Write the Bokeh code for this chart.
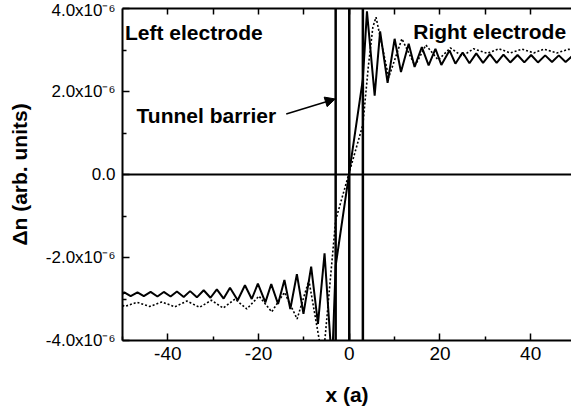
from bokeh.plotting import figure
from bokeh.models import (Range1d, LinearAxis, FixedTicker, Span, Label,
                          Arrow, NormalHead)
from bokeh.embed import file_html
from bokeh.resources import INLINE

# Charge-density change along the junction, in units of 1e-6 (arb. units)
# Solid curve: turning points read along x (lattice units a)
x_solid = [-50.0, -49.6, -48.2, -46.7, -45.3, -43.8, -42.3, -40.9, -39.4, -38.0,
           -36.5, -35.1, -33.6, -32.1, -30.6, -29.2, -27.7, -26.3, -24.6, -23.0,
           -21.5, -20.15, -18.5, -17.2, -15.7, -14.3, -13.0, -11.55, -10.1, -8.4,
           -6.9, -5.45, -3.8, -3.0, 3.0, 3.9, 5.6, 6.8, 8.45, 10.0,
           11.4, 13.1, 14.4, 16.0, 17.5, 19.0, 20.3, 22.1, 23.4, 25.0,
           26.5, 28.0, 29.5, 31.0, 32.5, 34.0, 35.5, 37.1, 38.6, 40.1,
           41.6, 43.2, 44.7, 46.2, 47.7, 49.2]
dn_solid = [-2.88, -2.84, -2.93, -2.84, -2.93, -2.83, -2.94, -2.83, -2.94, -2.82,
            -2.95, -2.81, -2.96, -2.79, -2.97, -2.77, -2.99, -2.73, -3.03, -2.67,
            -3.00, -2.63, -3.08, -2.64, -3.12, -2.54, -3.24, -2.40, -3.36, -2.22,
            -3.60, -1.90, -4.60, -2.20, 2.30, 3.93, 1.90, 3.45, 2.21, 3.27,
            2.47, 3.15, 2.59, 3.07, 2.63, 3.03, 2.64, 2.99, 2.67, 2.94,
            2.68, 2.92, 2.69, 2.90, 2.69, 2.89, 2.70, 2.88, 2.70, 2.88,
            2.70, 2.87, 2.71, 2.87, 2.71, 2.86]

# Dotted curve
x_dot = [-50.0, -49.5, -46.8, -44.0, -41.3, -38.5, -35.8, -33.0, -30.4, -27.8,
         -25.2, -22.6, -19.9, -17.1, -14.3, -11.5, -8.9, -5.8, -3.0, 3.0,
         4.2, 5.2, 5.9, 8.7, 11.6, 14.5, 16.9, 19.6, 22.3, 24.9,
         27.4, 30.4, 33.0, 35.5, 38.1, 40.7, 42.9, 45.8, 48.4, 49.2]
dn_dot = [-3.15, -3.18, -3.08, -3.18, -3.07, -3.19, -3.05, -3.20, -3.03, -3.22,
          -3.00, -3.24, -2.93, -3.31, -2.84, -3.48, -2.55, -4.50, -1.10, 1.20,
          2.60, 3.55, 3.79, 2.34, 3.27, 2.62, 3.12, 2.76, 3.05, 2.85,
          3.03, 2.92, 3.03, 2.93, 3.02, 2.93, 3.02, 2.93, 3.02, 3.00]

# Barrier edges and centre
barrier_x = [-3.0, 0.0, 3.0]

x_ticks = [-40, -20, 0, 20, 40]
x_minor = [-50, -30, -10, 10, 30, 50]
x_tick_labels = {-40: "-40", -20: "-20", 0: "0", 20: "20", 40: "40"}
y_ticks = [-4, -2, 0, 2, 4]
y_minor = [-3, -1, 1, 3]
y_tick_labels = {-4: "-4.0x10\u207b\u2076", -2: "-2.0x10\u207b\u2076", 0: "0.0",
                 2: "2.0x10\u207b\u2076", 4: "4.0x10\u207b\u2076"}

FONT = "Liberation Sans"

p = figure(width=571, height=417, x_range=Range1d(-50, 49.0),
           y_range=Range1d(-4, 4), output_backend="svg", toolbar_location=None,
           min_border_left=122, min_border_right=0, min_border_top=8,
           min_border_bottom=77, outline_line_color=None)
p.background_fill_color = "white"
p.border_fill_color = "white"
p.xgrid.visible = False
p.ygrid.visible = False


def style_axis(ax, ticks, minor, font_size):
    ax.ticker = FixedTicker(ticks=ticks, minor_ticks=minor)
    ax.axis_line_width = 2
    ax.axis_line_color = "black"
    ax.major_tick_in = 7
    ax.major_tick_out = 0
    ax.minor_tick_in = 4
    ax.minor_tick_out = 0
    ax.major_tick_line_width = 1.5
    ax.minor_tick_line_width = 1.5
    ax.major_tick_line_color = "black"
    ax.minor_tick_line_color = "black"
    ax.major_label_text_font = FONT
    ax.major_label_text_font_size = font_size
    ax.major_label_text_color = "black"
    ax.axis_label_text_font = FONT
    ax.axis_label_text_font_size = "21px"
    ax.axis_label_text_font_style = "bold"
    ax.axis_label_text_color = "black"


xax = p.xaxis[0]
style_axis(xax, x_ticks, x_minor, "19px")
xax.major_label_overrides = x_tick_labels
xax.major_label_standoff = 6
xax.axis_label = "x (a)"
xax.axis_label_standoff = 20

yax = p.yaxis[0]
style_axis(yax, y_ticks, y_minor, "17px")
yax.major_label_overrides = y_tick_labels
yax.major_label_standoff = 7
yax.axis_label = "\u0394n (arb. units)"
yax.axis_label_standoff = 12

# Top frame edge with inward ticks only
top = LinearAxis(ticker=FixedTicker(ticks=[], minor_ticks=[-40, -30, -20, -10, 0,
                                                            10, 20, 30, 40]),
                 axis_line_width=2, axis_line_color="black",
                 major_tick_in=0, major_tick_out=0,
                 minor_tick_in=6, minor_tick_out=0,
                 minor_tick_line_width=1.5, minor_tick_line_color="black",
                 major_label_standoff=0)
p.add_layout(top, "above")

# Zero line and barrier walls
p.add_layout(Span(location=0, dimension="width", line_color="black", line_width=2))
for bx in barrier_x:
    p.add_layout(Span(location=bx, dimension="height", line_color="black",
                      line_width=2.5))

p.line(x_dot, dn_dot, line_color="black", line_width=1.6, line_dash="2 2")
p.line(x_solid, dn_solid, line_color="black", line_width=2)

# Annotations
for txt, tx, ty in [("Left electrode", -49.45, 3.42),
                    ("Right electrode", 14.1, 3.45),
                    ("Tunnel barrier", -46.9, 1.42)]:
    p.add_layout(Label(x=tx, y=ty, text=txt, text_font=FONT,
                       text_font_size="21px", text_font_style="bold",
                       text_color="black", text_baseline="alphabetic"))

p.add_layout(Arrow(x_start=-13.9, y_start=1.46, x_end=-3.1, y_end=1.82,
                   line_color="black", line_width=1.5,
                   end=NormalHead(size=10, fill_color="black",
                                  line_color="black")))

open("out.html", "w").write(file_html(p, INLINE))
